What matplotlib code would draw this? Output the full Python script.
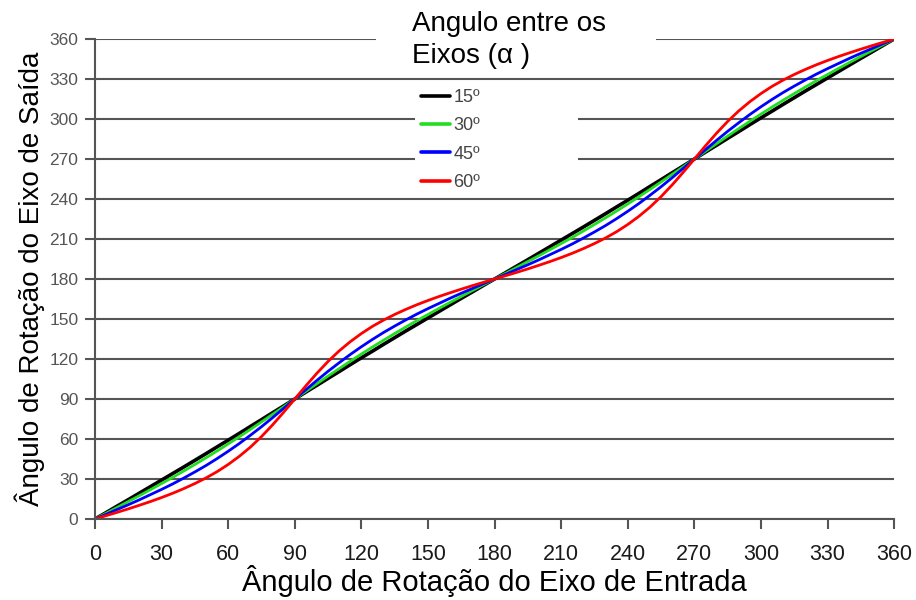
import matplotlib
matplotlib.use('Agg')
import matplotlib.pyplot as plt
from matplotlib.patches import Rectangle

plt.rcParams['font.family'] = ['Liberation Sans', 'DejaVu Sans']

# input shaft angle (deg), every 5 deg
entrada = list(range(0, 361, 5))

# output shaft angle (deg) read for each shaft angle alpha
saida_15 = [0, 4.8, 9.7, 14.5, 19.4, 24.3, 29.2, 34.1, 39.0, 44.0, 49.0, 54.1, 59.1, 64.2, 69.4, 74.5, 79.7, 84.8, 90,
            95.2, 100.3, 105.5, 110.6, 115.8, 120.9, 125.9, 131.0, 136.0, 141.0, 145.9, 150.8, 155.7, 160.6, 165.5, 170.3, 175.2, 180,
            184.8, 189.7, 194.5, 199.4, 204.3, 209.2, 214.1, 219.0, 224.0, 229.0, 234.1, 239.1, 244.2, 249.4, 254.5, 259.7, 264.8, 270,
            275.2, 280.3, 285.5, 290.6, 295.8, 300.9, 305.9, 311.0, 316.0, 321.0, 325.9, 330.8, 335.7, 340.6, 345.5, 350.3, 355.2, 360]
saida_30 = [0, 4.3, 8.7, 13.1, 17.5, 22.0, 26.6, 31.2, 36.0, 40.9, 45.9, 51.0, 56.3, 61.7, 67.2, 72.8, 78.5, 84.2, 90,
            95.8, 101.5, 107.2, 112.8, 118.3, 123.7, 129.0, 134.1, 139.1, 144.0, 148.8, 153.4, 158.0, 162.5, 166.9, 171.3, 175.7, 180,
            184.3, 188.7, 193.1, 197.5, 202.0, 206.6, 211.2, 216.0, 220.9, 225.9, 231.0, 236.3, 241.7, 247.2, 252.8, 258.5, 264.2, 270,
            275.8, 281.5, 287.2, 292.8, 298.3, 303.7, 309.0, 314.1, 319.1, 324.0, 328.8, 333.4, 338.0, 342.5, 346.9, 351.3, 355.7, 360]
saida_45 = [0, 3.5, 7.1, 10.7, 14.4, 18.3, 22.2, 26.3, 30.7, 35.3, 40.1, 45.3, 50.8, 56.6, 62.8, 69.2, 76.0, 83.0, 90,
            97.0, 104.0, 110.8, 117.2, 123.4, 129.2, 134.7, 139.9, 144.7, 149.3, 153.7, 157.8, 161.7, 165.6, 169.3, 172.9, 176.5, 180,
            183.5, 187.1, 190.7, 194.4, 198.3, 202.2, 206.3, 210.7, 215.3, 220.1, 225.3, 230.8, 236.6, 242.8, 249.2, 256.0, 263.0, 270,
            277.0, 284.0, 290.8, 297.2, 303.4, 309.2, 314.7, 319.9, 324.7, 329.3, 333.7, 337.8, 341.7, 345.6, 349.3, 352.9, 356.5, 360]
saida_60 = [0, 2.5, 5.0, 7.6, 10.3, 13.1, 16.1, 19.3, 22.8, 26.6, 30.8, 35.5, 40.9, 47.0, 53.9, 61.8, 70.6, 80.1, 90,
            99.9, 109.4, 118.2, 126.1, 133.0, 139.1, 144.5, 149.2, 153.4, 157.2, 160.7, 163.9, 166.9, 169.7, 172.4, 175.0, 177.5, 180,
            182.5, 185.0, 187.6, 190.3, 193.1, 196.1, 199.3, 202.8, 206.6, 210.8, 215.5, 220.9, 227.0, 233.9, 241.8, 250.6, 260.1, 270,
            279.9, 289.4, 298.2, 306.1, 313.0, 319.1, 324.5, 329.2, 333.4, 337.2, 340.7, 343.9, 346.9, 349.7, 352.4, 355.0, 357.5, 360]

legendas = ['15º', '30º', '45º', '60º']
cores = ['#000000', '#22dd22', '#0000ff', '#ff0000']
larguras = [2.6, 2.0, 2.0, 2.0]

ticks = list(range(0, 361, 30))

fig = plt.figure(figsize=(9.16, 6.0), dpi=100)
fig.patch.set_facecolor('white')
ax = fig.add_axes([0.1037, 0.135, 0.8725, 0.80])

for label, ys, color, lw in zip(legendas, [saida_15, saida_30, saida_45, saida_60], cores, larguras):
    ax.plot(entrada, ys, color=color, lw=lw, label=label, zorder=2,
            solid_capstyle='round', solid_joinstyle='round')

ax.set_xlim(0, 360)
ax.set_ylim(0, 360)
ax.set_xticks(ticks)
ax.set_yticks(ticks)
ax.yaxis.grid(True, color='#555555', lw=1.5, zorder=1)

for side in ['top', 'right']:
    ax.spines[side].set_visible(False)
for side in ['left', 'bottom']:
    ax.spines[side].set_color('#555555')
    ax.spines[side].set_linewidth(1.5)

ax.tick_params(axis='x', direction='out', length=7, width=1.5, color='#555555',
               labelsize=15.5, labelcolor='#1a1a1a', pad=11)
ax.tick_params(axis='y', direction='out', length=7, width=1.5, color='#555555',
               labelsize=12.5, labelcolor='#555555', pad=5)

ax.set_xlabel('Ângulo de Rotação do Eixo de Entrada', fontsize=21, labelpad=0)
ax.set_ylabel('Ângulo de Rotação do Eixo de Saída', fontsize=20, labelpad=3)

# white boxes behind the legend title and entries
ax.add_patch(Rectangle((0.352, 0.94), 0.35, 0.15, transform=ax.transAxes,
                       facecolor='white', edgecolor='none', zorder=4, clip_on=False))
ax.add_patch(Rectangle((0.40, 0.685), 0.204, 0.22, transform=ax.transAxes,
                       facecolor='white', edgecolor='none', zorder=4, clip_on=False))

ax.text(0.397, 0.998, 'Angulo entre os\nEixos (α )', transform=ax.transAxes,
        ha='left', va='center', fontsize=20, linespacing=1.33, zorder=6,
        color='black')

leg = ax.legend(loc='upper left', bbox_to_anchor=(0.408, 0.896), frameon=False,
                fontsize=13, handlelength=1.6, handletextpad=0.2,
                labelspacing=0.63, borderaxespad=0, borderpad=0)
leg.set_zorder(5)
for t in leg.get_texts():
    t.set_color('#444444')
for h in leg.legend_handles:
    h.set_linewidth(2.6)

fig.savefig('out.png', dpi=100, facecolor='white')
